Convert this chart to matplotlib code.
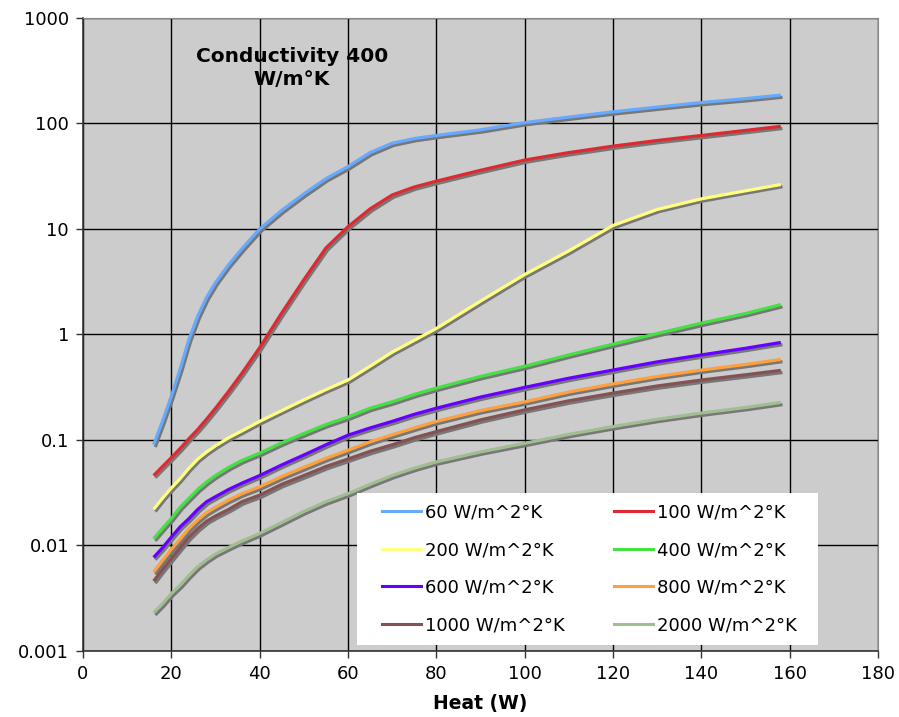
import matplotlib
matplotlib.use("Agg")
import matplotlib.pyplot as plt
import matplotlib.patheffects as pe
from matplotlib.lines import Line2D
from matplotlib.patches import Rectangle

heat = [16, 18, 20, 22, 24, 26, 28, 30, 33, 36, 40, 45, 50, 55, 60, 65, 70, 75, 80,
        90, 100, 110, 120, 130, 140, 150, 158]

h60 = [0.09, 0.15, 0.26, 0.47, 0.9, 1.5, 2.25, 3.1, 4.6, 6.5, 10, 15, 21.5, 30, 39, 53, 65, 72, 77,
       87, 102, 115, 129, 143, 158, 172, 186]
h100 = [0.046, 0.056, 0.068, 0.083, 0.103, 0.126, 0.158, 0.2, 0.29, 0.43, 0.75, 1.6, 3.3, 6.6, 10.5, 15.5, 21, 25, 28.4,
        36, 45, 53, 61, 69, 77, 86, 94]
h200 = [0.022, 0.028, 0.035, 0.043, 0.054, 0.066, 0.077, 0.088, 0.105, 0.122, 0.15, 0.19, 0.24, 0.3, 0.37, 0.5, 0.68, 0.88, 1.14,
        2.07, 3.7, 6.2, 10.8, 15.3, 19.3, 23, 26.4]
h400 = [0.0116, 0.0145, 0.018, 0.023, 0.028, 0.034, 0.04, 0.046, 0.055, 0.064, 0.075, 0.094, 0.115, 0.14, 0.165, 0.2, 0.23, 0.27, 0.31,
        0.4, 0.5, 0.64, 0.81, 1.02, 1.28, 1.58, 1.92]
h600 = [0.0077, 0.0095, 0.012, 0.015, 0.018, 0.022, 0.026, 0.029, 0.034, 0.039, 0.046, 0.058, 0.072, 0.09, 0.111, 0.13, 0.15, 0.175, 0.2,
        0.255, 0.315, 0.385, 0.46, 0.55, 0.64, 0.74, 0.84]
h800 = [0.0056, 0.0072, 0.0092, 0.0115, 0.0145, 0.0175, 0.0205, 0.023, 0.027, 0.031, 0.036, 0.045, 0.055, 0.067, 0.08, 0.096, 0.112, 0.13, 0.15,
        0.19, 0.23, 0.285, 0.34, 0.4, 0.46, 0.52, 0.58]
h1000 = [0.0046, 0.0059, 0.0075, 0.0095, 0.012, 0.0145, 0.017, 0.019, 0.022, 0.026, 0.03, 0.038, 0.046, 0.056, 0.066, 0.078, 0.09, 0.105, 0.12,
         0.155, 0.193, 0.235, 0.278, 0.325, 0.37, 0.415, 0.457]
h2000 = [0.0023, 0.0028, 0.0035, 0.0042, 0.0052, 0.0063, 0.0073, 0.0083, 0.0096, 0.011, 0.013, 0.0165, 0.021, 0.026, 0.031, 0.038, 0.046, 0.054, 0.062,
         0.077, 0.093, 0.113, 0.134, 0.157, 0.18, 0.203, 0.227]

labels = ["60 W/m^2°K", "100 W/m^2°K", "200 W/m^2°K", "400 W/m^2°K",
          "600 W/m^2°K", "800 W/m^2°K", "1000 W/m^2°K", "2000 W/m^2°K"]
series = [h60, h100, h200, h400, h600, h800, h1000, h2000]
colors = ["#66AAFF", "#DD2A30", "#FFFF80", "#44E044",
          "#6600FF", "#FFA040", "#845252", "#A0BE90"]

xticks = [0, 20, 40, 60, 80, 100, 120, 140, 160, 180]
yticks = [0.001, 0.01, 0.1, 1, 10, 100, 1000]
ytick_labels = ["0.001", "0.01", "0.1", "1", "10", "100", "1000"]

plt.rcParams['font.family'] = ['DejaVu Sans']
fig = plt.figure(figsize=(8.99, 7.17), dpi=100)
ax = fig.add_axes([0.0923, 0.0921, 0.8843, 0.8828])
ax.set_facecolor("#CCCCCC")

for ys, c, lab in zip(series, colors, labels):
    ax.plot(heat, ys, color=c, lw=2.3, label=lab, solid_capstyle='butt',
            solid_joinstyle='round',
            path_effects=[pe.SimpleLineShadow(offset=(1.2, -1.6), shadow_color='#777777', alpha=1.0),
                          pe.Normal()], zorder=3)

ax.set_yscale('log')
ax.set_xlim(0, 180)
ax.set_ylim(0.001, 1000)
ax.set_xticks(xticks)
ax.set_xticklabels([str(v) for v in xticks])
ax.set_yticks(yticks)
ax.set_yticklabels(ytick_labels)
ax.minorticks_off()
ax.tick_params(axis='both', direction='out', length=5, width=1, color='#333333',
               labelsize=13, pad=5)
ax.grid(True, color='black', lw=1, zorder=1)
ax.set_axisbelow(True)
for s in ['top', 'right']:
    ax.spines[s].set_color('#888888')
for s in ['left', 'bottom']:
    ax.spines[s].set_color('#333333')
    ax.spines[s].set_linewidth(1.2)

ax.set_xlabel("Heat (W)", fontsize=13.5, fontweight='bold', labelpad=8)

ax.text(0.263, 0.921, "Conductivity 400\nW/m°K", transform=ax.transAxes,
        ha='center', va='center', fontsize=14.5, fontweight='bold', linespacing=1.25)

# white legend box
ax.add_patch(Rectangle((0.3447, 0.0095), 0.58, 0.240, transform=ax.transAxes,
                       facecolor='white', edgecolor='none', zorder=4))

order = [0, 2, 4, 6, 1, 3, 5, 7]
handles = [Line2D([0], [0], color=colors[i], lw=2.2) for i in order]
leg_labels = [labels[i] for i in order]
leg = ax.legend(handles, leg_labels, ncol=2, loc='upper left',
                bbox_to_anchor=(0.376, 0.2325), frameon=False,
                fontsize=13, handlelength=2.16, handletextpad=0.2,
                labelspacing=1.08, borderpad=0, columnspacing=2.75, borderaxespad=0)
leg.set_zorder(5)

fig.savefig("out.png", dpi=100)
